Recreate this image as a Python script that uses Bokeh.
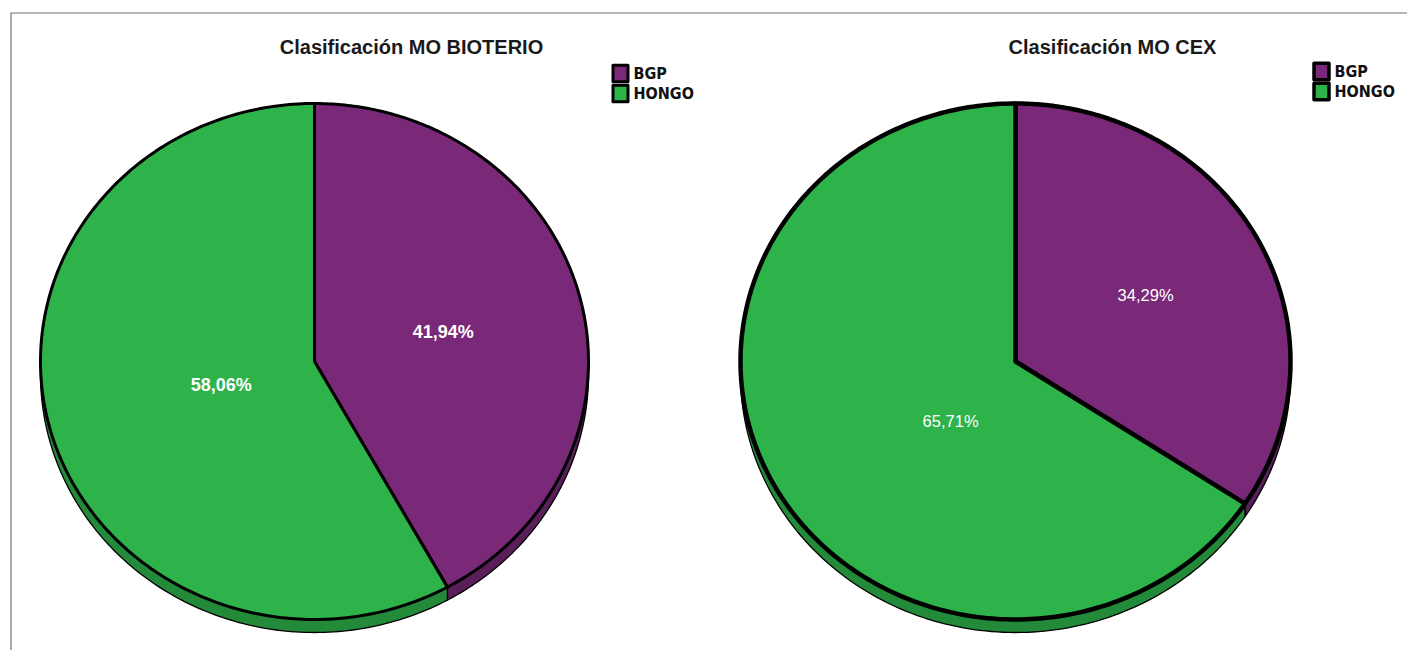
import numpy as np
from bokeh.plotting import figure
from bokeh.models import Range1d, BoxAnnotation
from bokeh.core.properties import value
from bokeh.embed import file_html
from bokeh.resources import INLINE

# ---- data ----
categories = ["BGP", "HONGO"]
bioterio_pct = [41.94, 58.06]
cex_pct = [34.29, 65.71]
bioterio_labels = ["41,94%", "58,06%"]
cex_labels = ["34,29%", "65,71%"]
titles = ["Clasificación MO BIOTERIO", "Clasificación MO CEX"]
colors = ["#7A2878", "#2DB34A"]
wall_colors = ["#5A1E58", "#238A3A"]

W, H = 1407, 650
p = figure(width=W, height=H, x_range=Range1d(0, W), y_range=Range1d(H, 0),
           x_axis_type=None, y_axis_type=None, output_backend="svg",
           toolbar_location=None, min_border=0)
p.grid.visible = False
p.outline_line_color = None
p.background_fill_color = "white"
p.border_fill_color = "white"

p.add_layout(BoxAnnotation(left=10.5, right=W + 50, top=12.5, bottom=H + 50,
                           fill_alpha=0, line_color="#707070", line_alpha=1.0,
                           line_width=1.2))


def ell(cx, cy, rx, ry, deg):
    t = np.radians(deg)
    return cx + rx * np.sin(t), cy - ry * np.cos(t)


def draw_pie(cx, cy, rx, ry, depth, values, labels, label_offsets, title,
             outline_w, lbl_style, lbl_size, legend_y, legend_lw):
    total = float(sum(values))
    angles = np.cumsum([0.0] + [v / total * 360.0 for v in values])
    # side walls
    for i in range(len(values)):
        a0, a1 = angles[i], angles[i + 1]
        w0, w1 = max(a0, 90.0), min(a1, 270.0)
        if w1 > w0:
            th = np.linspace(w0, w1, 120)
            xs, ys = ell(cx, cy, rx, ry, th)
            px = np.concatenate([xs, xs[::-1]])
            py = np.concatenate([ys, ys[::-1] + depth])
            p.patch(px, py, fill_color=wall_colors[i], line_color="black",
                    line_width=1.3, line_join="round")
    # top faces
    for i in range(len(values)):
        a0, a1 = angles[i], angles[i + 1]
        th = np.linspace(a0, a1, 240)
        xs, ys = ell(cx, cy, rx, ry, th)
        px = np.concatenate([[cx], xs, [cx]])
        py = np.concatenate([[cy], ys, [cy]])
        p.patch(px, py, fill_color=colors[i], line_color="black",
                line_width=outline_w, line_join="round")
    # labels
    lx = [cx + dx * rx for dx, dy in label_offsets]
    ly = [cy + dy * ry for dx, dy in label_offsets]
    p.text(lx, ly, text=labels, text_align="center", text_baseline="middle",
           text_color="white", text_font=value("Liberation Sans"),
           text_font_style=lbl_style, text_font_size=lbl_size)
    # title
    p.text([cx + 97], [46], text=[title], text_align="center", text_baseline="middle",
           text_color="#1a1a1a", text_font=value("Liberation Sans"),
           text_font_style="bold", text_font_size="20px")
    # legend
    p.rect([cx + 306] * len(categories), legend_y, width=15, height=16.5,
           fill_color=colors, line_color="black", line_width=legend_lw, line_join="round")
    p.text([cx + 319] * len(categories), legend_y, text=categories,
           text_align="left", text_baseline="middle", text_color="#111111",
           text_font=value("DejaVu Sans Condensed"), text_font_style="bold",
           text_font_size="16px")


draw_pie(314, 361, 274, 258, 13, bioterio_pct, bioterio_labels,
         [(0.47, -0.116), (-0.34, 0.093)], titles[0], 3, "bold", "18px",
         [73, 93], 3)
draw_pie(1015, 361, 275, 258, 13, cex_pct, cex_labels,
         [(0.473, -0.256), (-0.236, 0.229)], titles[1], 4.5, "normal", "16.5px",
         [71, 91], 3.5)

open("out.html", "w").write(file_html(p, INLINE))
